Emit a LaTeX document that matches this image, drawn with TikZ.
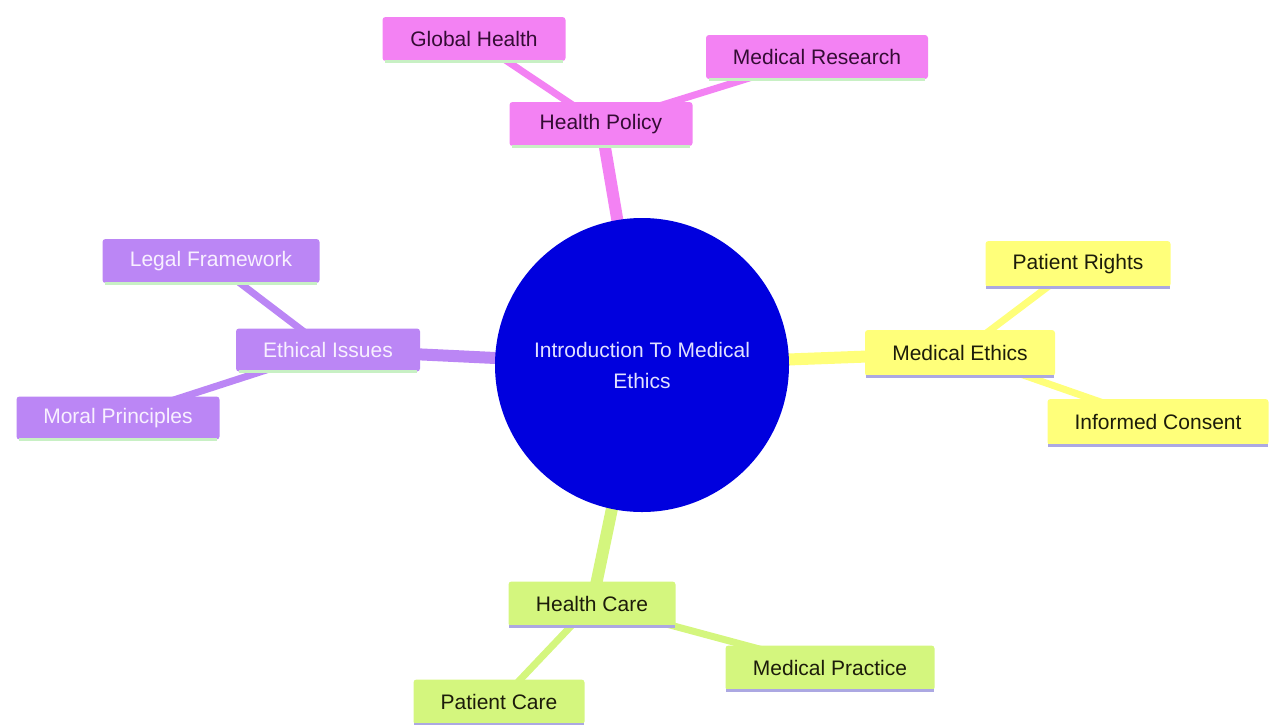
\documentclass[tikz,border=0pt]{standalone}
\usepackage{fontspec}
\setmainfont{Liberation Sans}
\usetikzlibrary{backgrounds}
\definecolor{pinkc}{RGB}{243,130,243}
\definecolor{purpc}{RGB}{187,134,245}
\definecolor{yellc}{RGB}{255,255,122}
\definecolor{greenc}{RGB}{212,246,126}
\definecolor{bluec}{RGB}{0,0,222}
\definecolor{lavline}{RGB}{172,168,226}
\definecolor{grnline}{RGB}{200,240,196}
\definecolor{pinktext}{RGB}{52,12,52}
\definecolor{darktext}{RGB}{28,28,10}
\definecolor{lighttext}{RGB}{248,240,255}
\definecolor{centertext}{RGB}{225,225,255}
\tikzset{
  box/.style={rounded corners=3pt, inner sep=0pt, font=\fontsize{21}{25}\selectfont, align=center},
  pinkbox/.style={box, fill=pinkc, text=pinktext},
  purpbox/.style={box, fill=purpc, text=lighttext},
  yellbox/.style={box, fill=yellc, text=darktext},
  greenbox/.style={box, fill=greenc, text=darktext},
  mainlink/.style={line width=12pt},
  sublink/.style={line width=7pt},
  underline/.style={line width=3pt}
}
\begin{document}
\begin{tikzpicture}[x=1pt,y=-1pt]
\useasboundingbox (0,0) rectangle (1271,724);
% centre
\node[circle, fill=bluec, minimum size=294pt, inner sep=0pt, text=centertext,
      font=\fontsize{21}{31}\selectfont, align=center] (c) at (642,365)
      {Introduction To Medical\\Ethics};
% pink
\node[pinkbox, minimum width=183pt, minimum height=44pt] (hp) at (601,124) {Health Policy};
\node[pinkbox, minimum width=183pt, minimum height=44pt] (gh) at (474,39) {Global Health};
\node[pinkbox, minimum width=222pt, minimum height=44pt] (mr) at (817,57) {Medical Research};
% yellow
\node[yellbox, minimum width=190pt, minimum height=46pt] (me) at (960,353) {Medical Ethics};
\node[yellbox, minimum width=185pt, minimum height=46pt] (pr) at (1078,264) {Patient Rights};
\node[yellbox, minimum width=221pt, minimum height=46pt] (ic) at (1158,422) {Informed Consent};
% purple
\node[purpbox, minimum width=184pt, minimum height=43pt] (ei) at (328,350) {Ethical Issues};
\node[purpbox, minimum width=217pt, minimum height=44pt] (lf) at (211,261) {Legal Framework};
\node[purpbox, minimum width=203pt, minimum height=43pt] (mp) at (118,418) {Moral Principles};
% green
\node[greenbox, minimum width=167pt, minimum height=45pt] (hc) at (592,604) {Health Care};
\node[greenbox, minimum width=209pt, minimum height=45pt] (mpr) at (830,668) {Medical Practice};
\node[greenbox, minimum width=171pt, minimum height=45pt] (pc) at (499,702) {Patient Care};
% bottom lines
\foreach \n in {gh,mr,hp,ei,lf,mp}
  \draw[underline, grnline] ([xshift=3pt]\n.south west) -- ([xshift=-3pt]\n.south east);
\foreach \n in {me,pr,ic,hc,mpr,pc}
  \draw[underline, lavline] ([xshift=1pt]\n.south west) -- ([xshift=-1pt]\n.south east);
% links
\begin{scope}[on background layer]
  \draw[mainlink, pinkc] (c.center) -- (hp.center);
  \draw[sublink, pinkc] (hp.center) -- (gh.center);
  \draw[sublink, pinkc] (hp.center) -- (mr.center);
  \draw[mainlink, yellc] (c.center) -- (me.center);
  \draw[sublink, yellc] (me.center) -- (pr.center);
  \draw[sublink, yellc] (me.center) -- (ic.center);
  \draw[mainlink, purpc] (c.center) -- (ei.center);
  \draw[sublink, purpc] (ei.center) -- (lf.center);
  \draw[sublink, purpc] (ei.center) -- (mp.center);
  \draw[mainlink, greenc] (c.center) -- (hc.center);
  \draw[sublink, greenc] (hc.center) -- (mpr.center);
  \draw[sublink, greenc] (hc.center) -- (pc.center);
\end{scope}
\end{tikzpicture}
\end{document}
